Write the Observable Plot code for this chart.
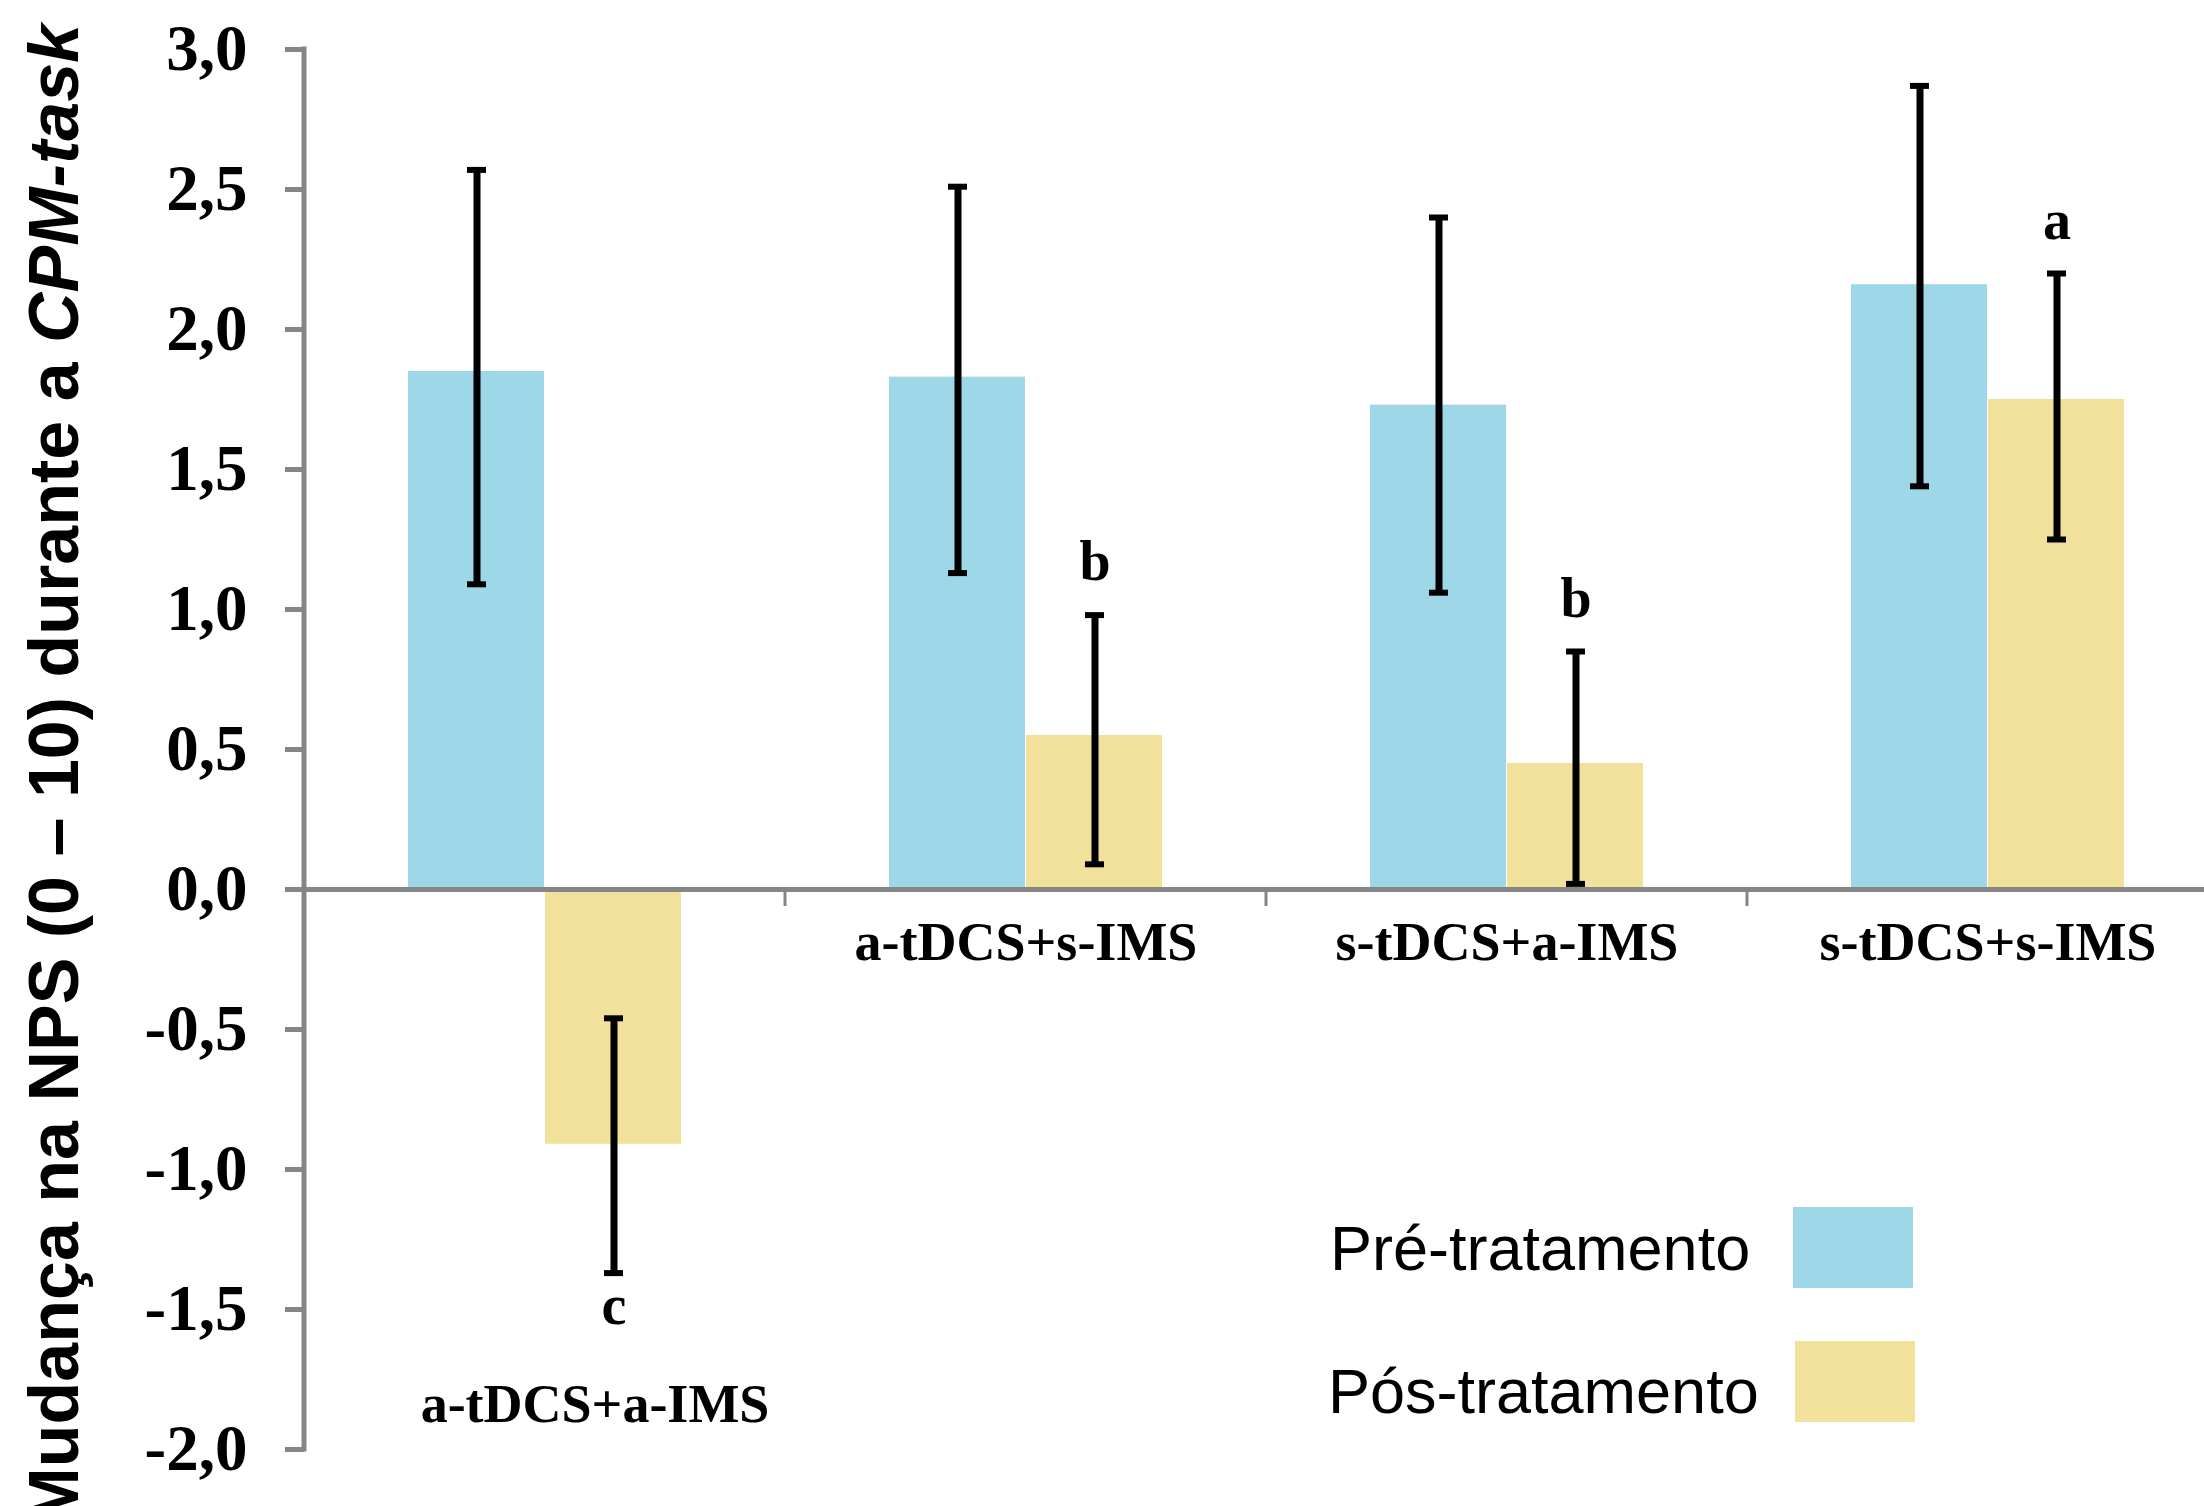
<!DOCTYPE html>
<html><head><meta charset="utf-8">
<script src="https://cdn.jsdelivr.net/npm/d3@7"></script>
<script src="https://cdn.jsdelivr.net/npm/@observablehq/plot@0.6"></script>
<style>
html,body{margin:0;padding:0;background:#fff;overflow:hidden;}
#chart{width:2204px;height:1506px;overflow:hidden;position:relative;}
</style></head><body><div id="chart"></div>
<script>
const categories = ["a-tDCS+a-IMS", "a-tDCS+s-IMS", "s-tDCS+a-IMS", "s-tDCS+s-IMS"];
const seriesNames = ["Pré-tratamento", "Pós-tratamento"];
const seriesColors = ["#9dd7e8", "#f1e19b"];
const preMean = [1.85, 1.83, 1.73, 2.16];
const preLow = [1.09, 1.13, 1.06, 1.44];
const preHigh = [2.57, 2.51, 2.40, 2.87];
const postMean = [-0.91, 0.55, 0.45, 1.75];
const postLow = [-1.37, 0.09, 0.02, 1.25];
const postHigh = [-0.46, 0.98, 0.85, 2.20];
const postLetters = ["c", "b", "b", "a"];
const yTicks = [-2, -1.5, -1, -0.5, 0, 0.5, 1, 1.5, 2, 2.5, 3];
const titleMain = "Mudança na NPS (0 – 10) durante a ";
const titleItalic = "CPM-task";

const data = categories.flatMap((c, i) => [
  {category: c, series: seriesNames[0], value: preMean[i], low: preLow[i], high: preHigh[i], letter: null},
  {category: c, series: seriesNames[1], value: postMean[i], low: postLow[i], high: postHigh[i], letter: postLetters[i]}
]);
const catRows = categories.map((c, i) => ({category: c, low: Math.min(0, preLow[i], postLow[i])}));

const serif = "'Liberation Serif', 'Times New Roman', serif";
const sans = "'Liberation Sans', Arial, sans-serif";

const plot = Plot.plot({
  width: 2228, height: 1506,
  marginLeft: 304, marginRight: 0, marginTop: 49, marginBottom: 57,
  style: {background: "white", maxWidth: "none", overflow: "visible"},
  fx: {domain: categories, padding: 0, axis: null, label: null},
  x: {domain: seriesNames, paddingInner: 0, paddingOuter: 0.743, axis: null},
  y: {domain: [-2, 3], axis: null},
  color: {domain: seriesNames, range: seriesColors},
  marks: [
    Plot.barY(data, {fx: "category", x: "series", y: "value", fill: "series", insetRight: 1}),
    Plot.ruleY([0], {stroke: "#858585", strokeWidth: 5}),
    Plot.axisY({
      ticks: yTicks,
      tickFormat: d => d.toFixed(1).replace(".", ","),
      tickSize: 19, tickPadding: 38,
      stroke: "#858585", strokeWidth: 5,
      fill: "black", fontSize: 65, fontFamily: serif, fontWeight: "bold",
      label: null
    }),
    Plot.ruleX(data, {fx: "category", x: "series", y1: "low", y2: "high", stroke: "black", strokeWidth: 7}),
    Plot.tickY(data, {fx: "category", x: "series", y: "low", insetLeft: 59, insetRight: 59, stroke: "black", strokeWidth: 6}),
    Plot.tickY(data, {fx: "category", x: "series", y: "high", insetLeft: 59, insetRight: 59, stroke: "black", strokeWidth: 6}),
    Plot.text(data.filter(d => d.letter && d.low >= 0), {
      fx: "category", x: "series", y: "high", text: "letter", lineAnchor: "bottom", dy: -35,
      fontSize: 56, fontFamily: serif, fontWeight: "bold", fill: "black"
    }),
    Plot.text(data.filter(d => d.letter && d.high < 0), {
      fx: "category", x: "series", y: "low", text: "letter", lineAnchor: "bottom", dy: 51,
      fontSize: 56, fontFamily: serif, fontWeight: "bold", fill: "black"
    }),
    Plot.text(catRows.filter(d => d.low >= 0), {
      fx: "category", y: d => 0, text: "category", lineAnchor: "bottom", dy: 70,
      fontSize: 54, fontFamily: serif, fontWeight: "bold", fill: "black"
    }),
    Plot.text(catRows.filter(d => d.low < 0), {
      fx: "category", y: "low", text: "category", lineAnchor: "bottom", dy: 149, dx: 50,
      fontSize: 54, fontFamily: serif, fontWeight: "bold", fill: "black"
    })
  ]
});

document.getElementById("chart").appendChild(plot);
const svg = d3.select(plot);

const fxs = plot.scale("fx");
const ys = plot.scale("y");
const y0 = ys.apply(0);

// y axis line
const xAxis = fxs.apply(categories[0]);
svg.append("line").attr("x1", xAxis).attr("x2", xAxis)
  .attr("y1", ys.apply(yTicks[yTicks.length - 1]) - 2.5).attr("y2", ys.apply(yTicks[0]) + 2.5)
  .attr("stroke", "#858585").attr("stroke-width", 5);

// category separator ticks on the zero line
categories.slice(0, -1).forEach(c => {
  const xb = fxs.apply(c) + fxs.bandwidth;
  svg.append("line").attr("x1", xb).attr("x2", xb).attr("y1", y0).attr("y2", y0 + 17)
    .attr("stroke", "#858585").attr("stroke-width", 3);
});

// rotated y-axis title
const t = svg.append("text")
  .attr("transform", "translate(78,24) rotate(-90)")
  .attr("text-anchor", "end")
  .attr("font-family", sans).attr("font-weight", "bold").attr("font-size", 70).attr("fill", "black");
t.append("tspan").text(titleMain);
t.append("tspan").attr("font-style", "italic").text(titleItalic);

// legend
const color = plot.scale("color");
const legendPos = [{tx: 1330, ty: 1270, rx: 1793, ry: 1207}, {tx: 1328, ty: 1413, rx: 1795, ry: 1341}];
seriesNames.forEach((s, i) => {
  const p = legendPos[i];
  svg.append("text").attr("x", p.tx).attr("y", p.ty).attr("text-anchor", "start")
    .attr("font-family", sans).attr("font-size", 63).attr("fill", "black").text(s);
  svg.append("rect").attr("x", p.rx).attr("y", p.ry).attr("width", 120).attr("height", 81)
    .attr("fill", color.apply(s));
});
</script></body></html>
